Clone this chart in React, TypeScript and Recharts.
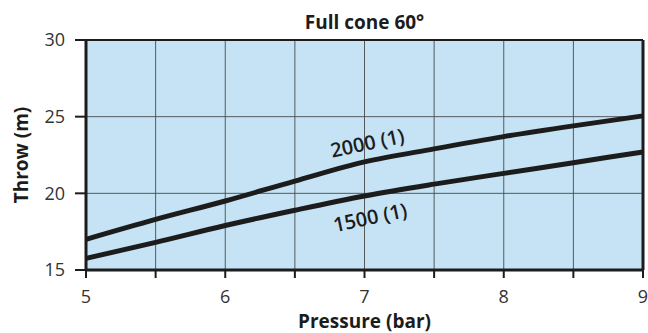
import { CartesianGrid, Line, LineChart, ReferenceDot, ReferenceLine, XAxis, YAxis, Label } from 'recharts'

// Throw vs pressure, full cone 60° nozzle.
const pressure = [5, 5.5, 6, 6.5, 7, 7.5, 8, 8.5, 9]
const throw2000 = [17.0, 18.3, 19.5, 20.8, 22.05, 22.9, 23.7, 24.4, 25.05]
const throw1500 = [15.76, 16.8, 17.9, 18.9, 19.83, 20.6, 21.3, 22.0, 22.7]

const xTicks = [5, 5.5, 6, 6.5, 7, 7.5, 8, 8.5, 9]
const yTicks = [15, 20, 25, 30]

const curveLabels = [
  { text: '2000 (1)', x: 7.02, y: 23.3 },
  { text: '1500 (1)', x: 7.04, y: 18.45 },
]

const FONT = '"Open Sans", sans-serif'
const INK = '#1c1c1c'
const FILL = '#C5E3F4'

const data = pressure.map((p, i) => ({ p, a: throw2000[i], b: throw1500[i] }))

function RotatedLabel(text: string) {
  return (props: any) => {
    const { cx, cy } = props
    return (
      <text
        x={cx}
        y={cy}
        transform={`rotate(-12 ${cx} ${cy})`}
        textAnchor="middle"
        dominantBaseline="central"
        fontFamily={FONT}
        fontWeight={600}
        fontSize={20}
        fill={INK}
      >
        {text}
      </text>
    )
  }
}

export default function App() {
  return (
    <div style={{ position: 'absolute', left: 0, top: 0, width: 648, height: 333, background: '#fff' }}>
      <div
        style={{
          position: 'absolute',
          left: 86,
          width: 557,
          top: 9,
          textAlign: 'center',
          fontFamily: FONT,
          fontWeight: 700,
          fontSize: 19,
          color: INK,
        }}
      >
        Full cone 60°
      </div>
      <LineChart width={648} height={333} data={data} margin={{ top: 40, right: 5, left: 0, bottom: 0 }}>
        <CartesianGrid fill={FILL} stroke="#4a4a4a" strokeWidth={1} strokeOpacity={0.9} />
        <XAxis
          dataKey="p"
          type="number"
          domain={[5, 9]}
          ticks={xTicks}
          tickFormatter={(v) => (Number.isInteger(v) ? String(v) : '')}
          height={63}
          axisLine={{ stroke: INK, strokeWidth: 3 }}
          tickLine={{ stroke: INK, strokeWidth: 2 }}
          tickSize={8}
          tick={{ fontFamily: FONT, fontSize: 18, fill: '#333' }}
          tickMargin={12}
        >
          <Label
            value="Pressure (bar)"
            position="insideBottom"
            offset={5}
            style={{ fontFamily: FONT, fontWeight: 700, fontSize: 19, fill: INK }}
          />
        </XAxis>
        <YAxis
          type="number"
          domain={[15, 30]}
          ticks={yTicks}
          width={86}
          axisLine={{ stroke: INK, strokeWidth: 3 }}
          tickLine={{ stroke: INK, strokeWidth: 2 }}
          tickSize={11}
          tick={{ fontFamily: FONT, fontSize: 18, fill: '#333' }}
          tickMargin={10}
        >
          <Label
            value="Throw (m)"
            angle={-90}
            position="insideLeft"
            offset={21}
            style={{ textAnchor: 'middle', fontFamily: FONT, fontWeight: 700, fontSize: 19, fill: INK }}
          />
        </YAxis>
        <ReferenceLine y={30} stroke={INK} strokeWidth={2} />
        <ReferenceLine x={9} stroke={INK} strokeWidth={3} />
        <Line type="monotone" dataKey="a" stroke={INK} strokeWidth={5} dot={false} isAnimationActive={false} />
        <Line type="monotone" dataKey="b" stroke={INK} strokeWidth={5} dot={false} isAnimationActive={false} />
        {curveLabels.map((l) => (
          <ReferenceDot key={l.text} x={l.x} y={l.y} r={0} shape={RotatedLabel(l.text)} />
        ))}
      </LineChart>
    </div>
  )
}
